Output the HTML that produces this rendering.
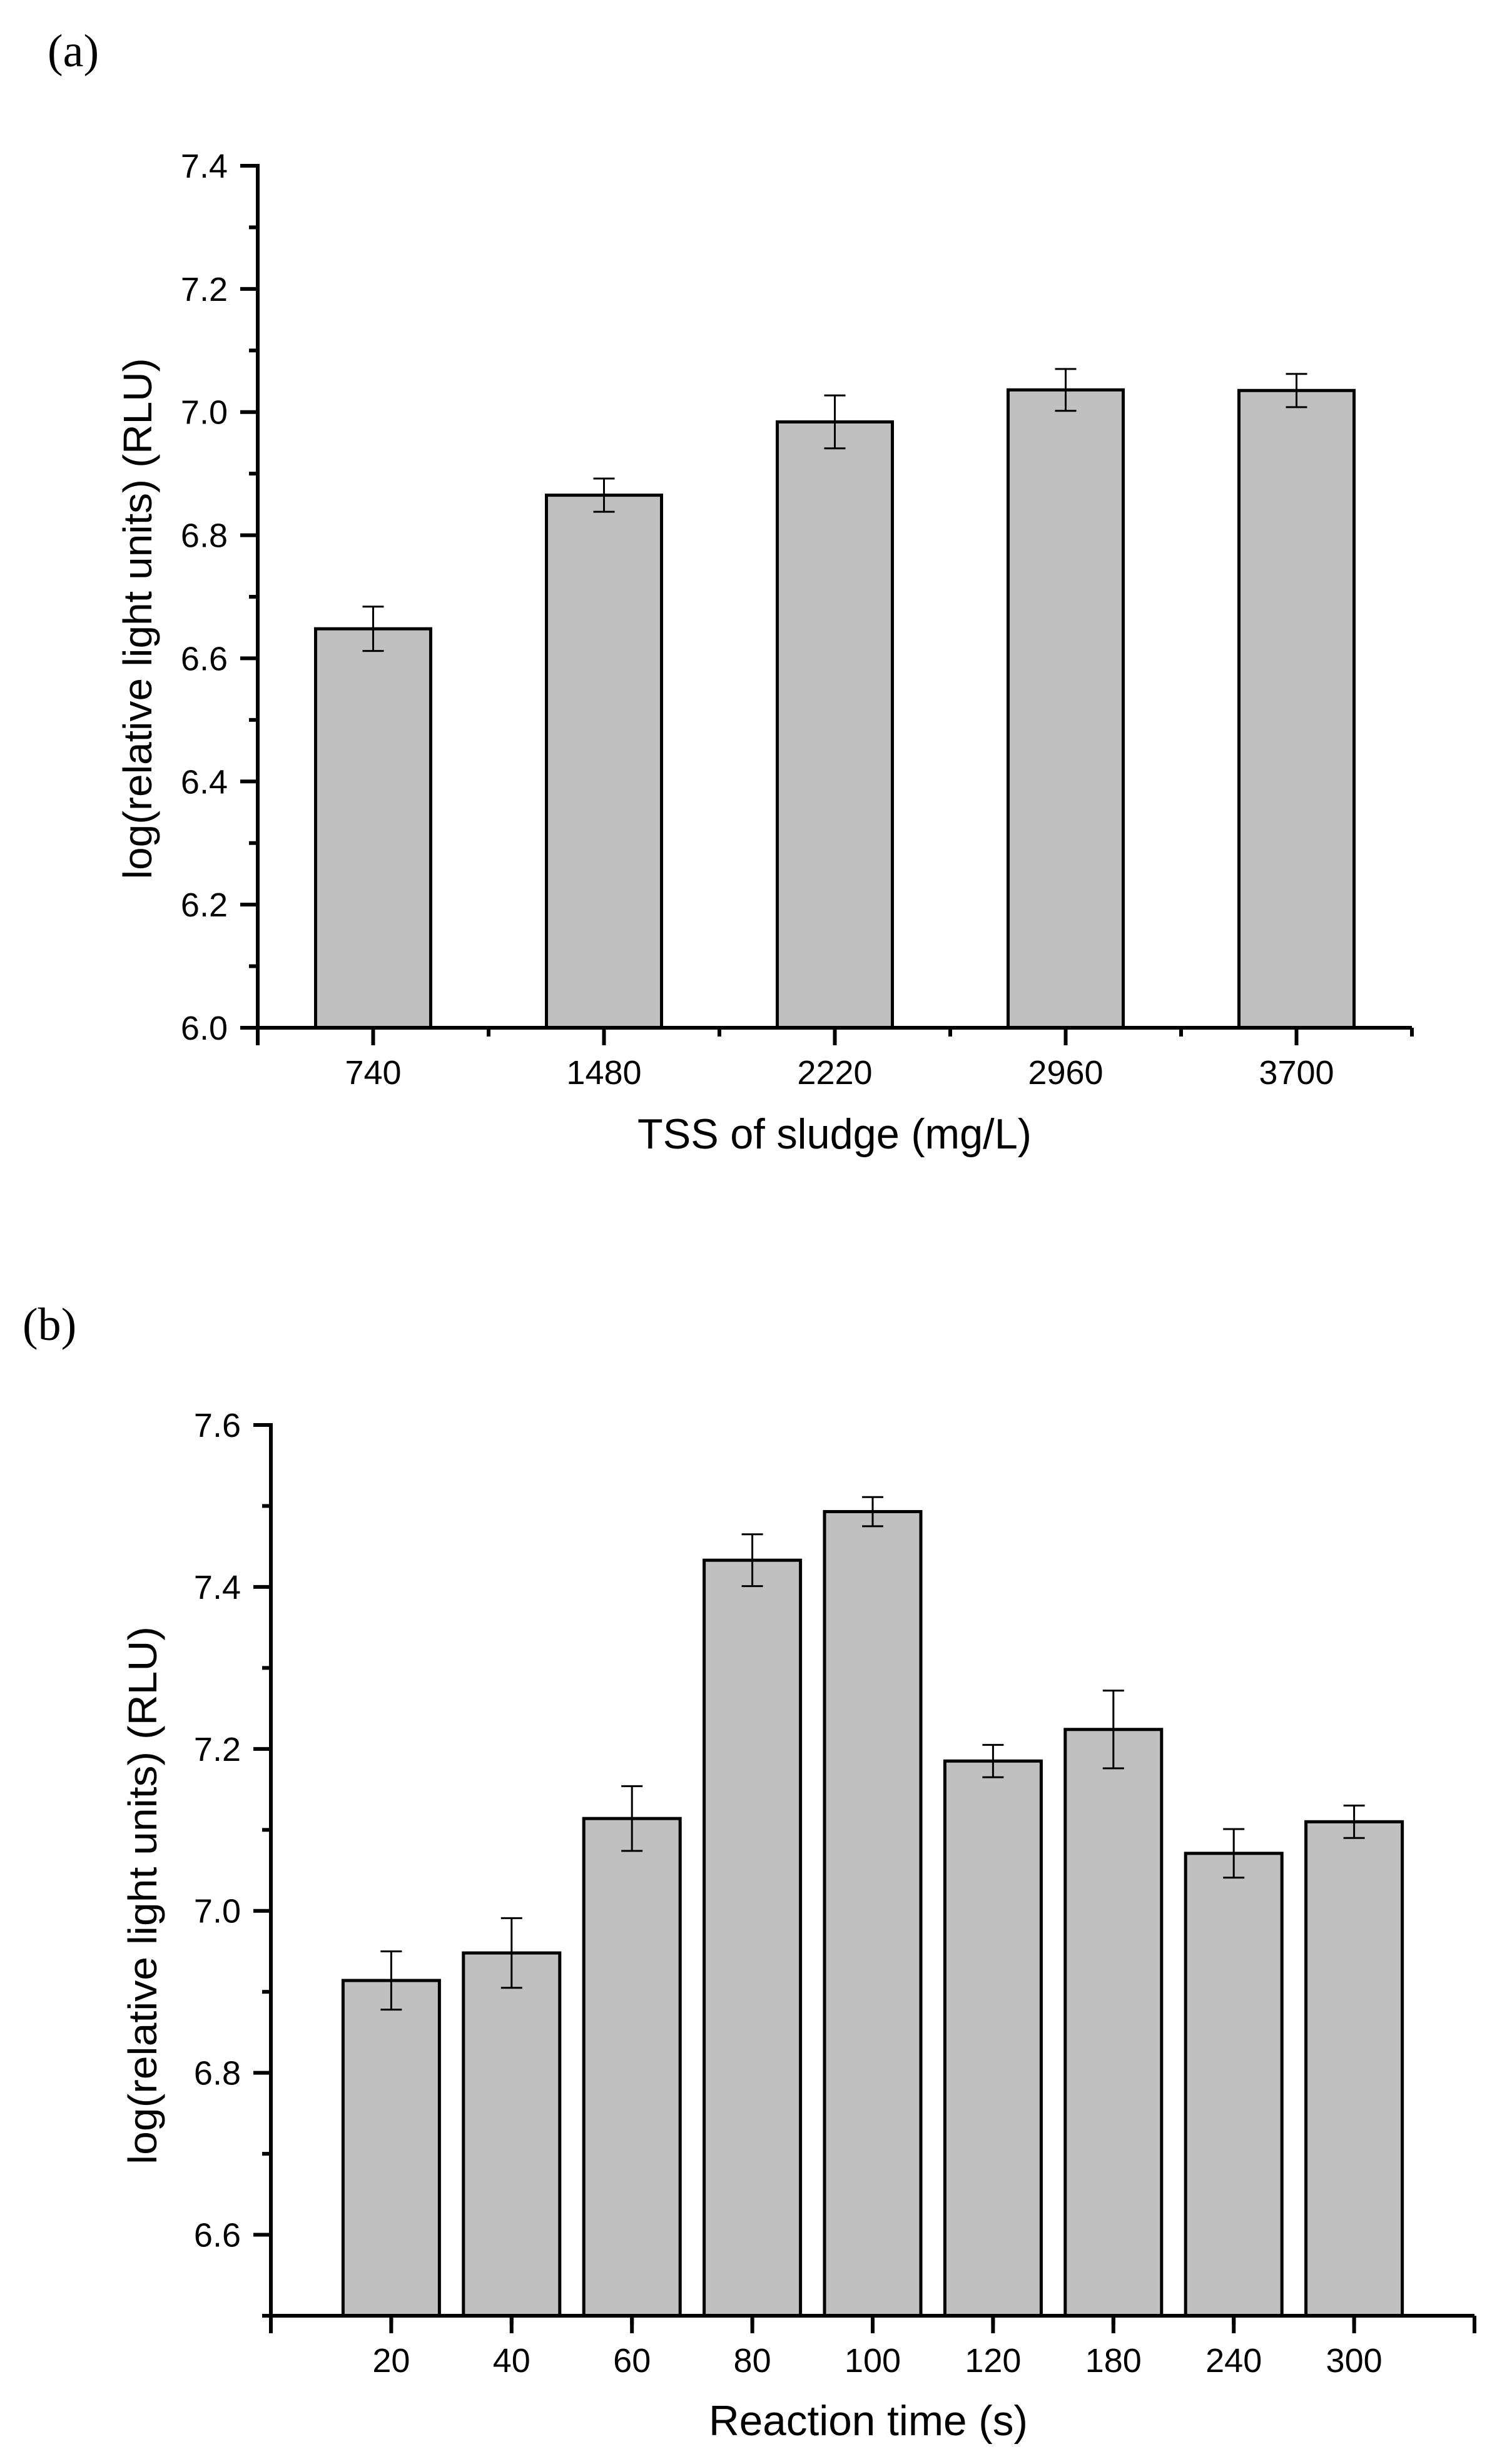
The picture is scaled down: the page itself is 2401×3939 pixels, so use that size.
<!DOCTYPE html>
<html><head><meta charset="utf-8"><style>
html,body{margin:0;padding:0;background:#fff}
svg{display:block}
text{font-family:"Liberation Sans",Arial,sans-serif;fill:#000}
</style></head><body>
<svg id="fig" width="2401" height="3939" viewBox="0 0 2401 3939" xmlns="http://www.w3.org/2000/svg">
<rect width="2401" height="3939" fill="#fff"/>
<text x="76" y="106" style="font-family:'Liberation Serif',serif;font-size:74px">(a)</text>
<text x="36" y="2142" style="font-family:'Liberation Serif',serif;font-size:74px">(b)</text>
<g id="chartA"></g>
<g id="chartB"></g>
</svg>
<script>
const catsA = ["740","1480","2220","2960","3700"];
const valsA = [6.648, 6.865, 6.984, 7.036, 7.035];
const errA = [0.036, 0.027, 0.043, 0.034, 0.027];
const yTicksA = [6.0, 6.2, 6.4, 6.6, 6.8, 7.0, 7.2, 7.4];
const yMinorA = [6.1, 6.3, 6.5, 6.7, 6.9, 7.1, 7.3];

const catsB = ["20","40","60","80","100","120","180","240","300"];
const valsB = [6.914, 6.948, 7.114, 7.433, 7.493, 7.185, 7.224, 7.071, 7.110];
const errB = [0.036, 0.043, 0.040, 0.032, 0.018, 0.020, 0.048, 0.030, 0.020];
const yTicksB = [6.6, 6.8, 7.0, 7.2, 7.4, 7.6];
const yMinorB = [6.5, 6.7, 6.9, 7.1, 7.3, 7.5];

const NS = "http://www.w3.org/2000/svg";
function mk(parent, tag, attrs, txt){
  const e = document.createElementNS(NS, tag);
  for (const k in attrs) e.setAttribute(k, attrs[k]);
  if (txt !== undefined) e.textContent = txt;
  parent.appendChild(e);
  return e;
}

function drawChart(g, cfg, cats, vals, errs, ticks, minors){
  const yS = v => cfg.y1 - (v - cfg.vmin) / (cfg.vmax - cfg.vmin) * (cfg.y1 - cfg.y0);
  const xS = i => cfg.x0 + (i + cfg.off) * cfg.step;
  // bars
  cats.forEach((c, i) => {
    const cx = xS(i), top = yS(vals[i]);
    const bar = mk(g, "rect", {x: cx - cfg.bw/2, y: top, width: cfg.bw, height: cfg.y1 - top, fill: "#c0c0c0", stroke: "#000", "stroke-width": 5});
    
    
    const eh = yS(vals[i] + errs[i]), el = yS(vals[i] - errs[i]);
    const eb = mk(g, "path", {d: `M${cx},${eh}V${el}M${cx-cfg.cap/2},${eh}H${cx+cfg.cap/2}M${cx-cfg.cap/2},${el}H${cx+cfg.cap/2}`, stroke: "#000", "stroke-width": 3, fill: "none"});
    
    
    const lb = mk(g, "text", {x: cx, y: cfg.y1 + 90, "text-anchor": "middle", "font-size": 54}, c);
    
    
    mk(g, "line", {x1: cx, x2: cx, y1: cfg.y1, y2: cfg.y1 + 28, stroke: "#000", "stroke-width": 6});
  });
  // x boundary ticks
  for (let k = 0; k <= cfg.nslots; k++){
    const x = cfg.x0 + k * cfg.step;
    const major = cfg.bMajor(k);
    mk(g, "line", {x1: x, x2: x, y1: cfg.y1, y2: cfg.y1 + (major ? 28 : 14), stroke: "#000", "stroke-width": 6});
  }
  // y ticks
  ticks.forEach(t => {
    const y = yS(t);
    mk(g, "line", {x1: cfg.x0 - 28, x2: cfg.x0, y1: y, y2: y, stroke: "#000", "stroke-width": 6});
    const tl = mk(g, "text", {x: cfg.x0 - 48, y: y + 19, "text-anchor": "end", "font-size": 54}, t.toFixed(1));
    
    
  });
  minors.forEach(t => {
    const y = yS(t);
    mk(g, "line", {x1: cfg.x0 - 14, x2: cfg.x0, y1: y, y2: y, stroke: "#000", "stroke-width": 6});
  });
  // axes
  const ax = mk(g, "path", {d: `M${cfg.x0},${cfg.y0 - 3}V${cfg.y1}H${cfg.x2}`, stroke: "#000", "stroke-width": 6, fill: "none"});
  
  
  const xt = mk(g, "text", {x: cfg.xtX, y: cfg.xtY, "text-anchor": "middle", "font-size": 68, textLength: cfg.xtLen, lengthAdjust: "spacingAndGlyphs"}, cfg.xTitle);
  
  
  const yt = mk(g, "text", {x: 0, y: 0, "text-anchor": "middle", "font-size": 64, textLength: cfg.ytLen, lengthAdjust: "spacingAndGlyphs", transform: `translate(${cfg.ytX},${cfg.ytY}) rotate(-90)`}, "log(relative light units) (RLU)");
  
  
}

drawChart(document.getElementById("chartA"), {
  x0: 412, x2: 2257, y0: 265, y1: 1643, vmin: 6.0, vmax: 7.4,
  step: 369, off: 0.5, bw: 184, cap: 34, nslots: 5, bMajor: k => k === 0,
  xTitle: "TSS of sludge (mg/L)", xtX: 1334, xtY: 1836, xtLen: 630,
  ytX: 242, ytY: 989, ytLen: 833
}, catsA, valsA, errA, yTicksA, yMinorA);

drawChart(document.getElementById("chartB"), {
  x0: 433, x2: 2357, y0: 2278, y1: 3702, vmin: 6.5, vmax: 7.6,
  step: 192.4, off: 1, bw: 154, cap: 34, nslots: 10, bMajor: k => k === 0 || k === 10,
  xTitle: "Reaction time (s)", xtX: 1388, xtY: 3893, xtLen: 510,
  ytX: 250, ytY: 3030, ytLen: 860
}, catsB, valsB, errB, yTicksB, yMinorB);
</script>
</body></html>
